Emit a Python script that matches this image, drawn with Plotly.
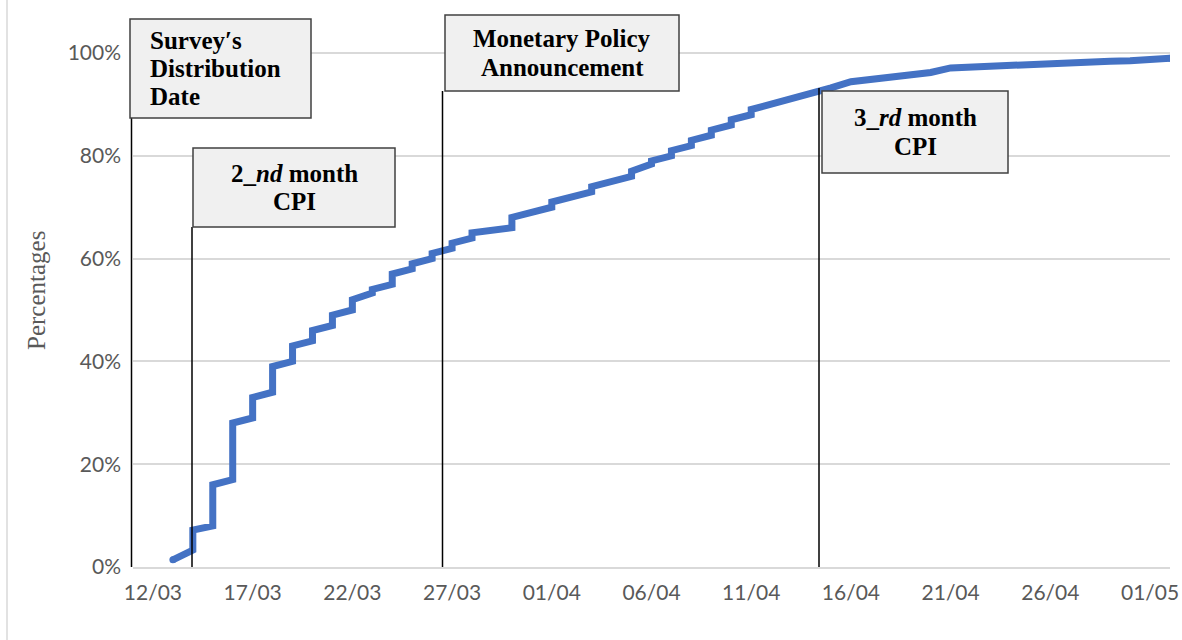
import plotly.graph_objects as go

# cumulative share of survey responses, read per day:
# value reached at the end of the previous day -> value after that day's jump
days = [
    "2020-03-13", "2020-03-14", "2020-03-15", "2020-03-16", "2020-03-17",
    "2020-03-18", "2020-03-19", "2020-03-20", "2020-03-21", "2020-03-22",
    "2020-03-23", "2020-03-24", "2020-03-25", "2020-03-26", "2020-03-27",
    "2020-03-28", "2020-03-29", "2020-03-30", "2020-03-31", "2020-04-01",
    "2020-04-02", "2020-04-03", "2020-04-04", "2020-04-05", "2020-04-06",
    "2020-04-07", "2020-04-08", "2020-04-09", "2020-04-10", "2020-04-11",
    "2020-04-12", "2020-04-13", "2020-04-14", "2020-04-15", "2020-04-16",
    "2020-04-17", "2020-04-18", "2020-04-19", "2020-04-20", "2020-04-21",
    "2020-04-22", "2020-04-23", "2020-04-24", "2020-04-25", "2020-04-26",
    "2020-04-27", "2020-04-28", "2020-04-29", "2020-04-30", "2020-05-01",
    "2020-05-02",
]
pct_before = [
    1.4, 3.3, 8, 17, 29, 34, 40, 44, 47, 50,
    53.3, 55, 58, 60, 62, 64, 65.5, 66, 69, 70,
    72, 73, 75, 76, 78.4, 80, 82, 84, 86, 88,
    90, 91, 92, 93.2, 94.4, 94.9, 95.4, 95.8, 96.2, 97.1,
    97.3, 97.5, 97.7, 97.8, 98.0, 98.1, 98.3, 98.4, 98.5, 98.7,
    99.0,
]
pct_after = [
    1.4, 7.2, 16, 28, 33, 39, 43, 46, 49, 52,
    54, 57, 59, 61, 63, 65, 65.5, 68, 69, 71,
    72, 74, 75, 77, 79, 81, 83, 85, 87, 89,
    90, 91, 92, 93.2, 94.4, 94.9, 95.4, 95.8, 96.2, 97.1,
    97.3, 97.5, 97.7, 97.8, 98.0, 98.1, 98.3, 98.4, 98.5, 98.7,
    99.0,
]

tick_start = "2020-03-12"

# event boxes: text lines, box edges in pixels, line x in pixels, line top
events = [
    dict(lines=["<b>Survey′s</b>", "<b>Distribution</b>", "<b>Date</b>"],
         box=(130, 19, 311, 118), line_x=131.5, line_top=118, align="left"),
    dict(lines=["<b>2_<i>nd</i> month</b>", "<b>CPI</b>"],
         box=(193, 148, 395, 227), line_x=192, line_top=227, align="center"),
    dict(lines=["<b>Monetary Policy</b>", "<b>Announcement</b>"],
         box=(445, 15, 679, 91), line_x=442.5, line_top=91, align="center"),
    dict(lines=["<b>3_<i>rd</i> month</b>", "<b>CPI</b>"],
         box=(822, 91, 1008, 173), line_x=819, line_top=88, align="center"),
]

W, H = 1182, 640
L, R, T, B = 133, 12, 40, 73
PW, PH = W - L - R, H - T - B


def px(x):
    return (x - L) / PW


def py(y):
    return (H - B - y) / PH


xs, ys = [], []
for d, a, b in zip(days, pct_before, pct_after):
    xs.append(d)
    ys.append(a / 100)
    if b != a:
        xs.append(d)
        ys.append(b / 100)

sizes = [7] + [0] * (len(xs) - 2) + [7]

fig = go.Figure()
fig.add_trace(go.Scatter(
    x=xs, y=ys, mode="lines+markers",
    line=dict(color="#4472C4", width=7),
    marker=dict(size=sizes, color="#4472C4", opacity=1, line=dict(width=0)),
    showlegend=False, hoverinfo="skip",
))

shapes = [dict(type="line", xref="paper", yref="paper",
               x0=px(7), x1=px(7), y0=py(H), y1=py(0),
               line=dict(color="#d9d9d9", width=1.5))]
annotations = []
for ev in events:
    x0, y0, x1, y1 = ev["box"]
    shapes.append(dict(type="line", xref="paper", yref="paper",
                       x0=px(ev["line_x"]), x1=px(ev["line_x"]),
                       y0=py(567), y1=py(ev["line_top"]),
                       line=dict(color="black", width=1.5), layer="above"))
    shapes.append(dict(type="rect", xref="paper", yref="paper",
                       x0=px(x0), x1=px(x1), y0=py(y0), y1=py(y1),
                       fillcolor="#f0f0f0",
                       line=dict(color="#404040", width=1.5), layer="above"))
    n = len(ev["lines"])
    step = 28
    first = (y0 + y1) / 2 - step * (n - 1) / 2
    for i, txt in enumerate(ev["lines"]):
        if ev["align"] == "left":
            ax, anchor = px(x0 + 19), "left"
        else:
            ax, anchor = px((x0 + x1) / 2), "center"
        annotations.append(dict(
            xref="paper", yref="paper", x=ax, y=py(first + step * i),
            xanchor=anchor, yanchor="middle", showarrow=False, text=txt,
            borderpad=0,
            font=dict(family="Liberation Serif", size=25, color="black"),
        ))

annotations.append(dict(
    xref="paper", yref="paper", x=px(36), y=py(291), textangle=-90,
    xanchor="center", yanchor="middle",
    showarrow=False, text="Percentages",
    font=dict(family="Liberation Serif", size=25, color="#595959"),
))

fig.update_layout(
    width=W, height=H,
    margin=dict(l=L, r=R, t=T, b=B, autoexpand=False),
    paper_bgcolor="white", plot_bgcolor="white",
    shapes=shapes, annotations=annotations,
    xaxis=dict(
        type="date", range=["2020-03-11", "2020-05-02"],
        tick0=tick_start, dtick=5 * 86400000, tickformat="%d/%m",
        showgrid=False, zeroline=False, automargin=False,
        showline=True, linecolor="#d9d9d9", linewidth=1.5,
        ticks="", ticklabelstandoff=6,
        tickfont=dict(family="Lato", size=21, color="#595959"),
    ),
    yaxis=dict(
        range=[0, PH / 514], tickvals=[0, 0.2, 0.4, 0.6, 0.8, 1.0],
        tickformat=".0%", automargin=False,
        showgrid=True, gridcolor="#d9d9d9", gridwidth=1.5,
        zeroline=False, showline=False, ticks="", ticklabelstandoff=11,
        tickfont=dict(family="Lato", size=21, color="#595959"),
    ),
)

fig.write_html("out.html", config={"displayModeBar": False},
               post_script="document.body.style.margin='0';")
